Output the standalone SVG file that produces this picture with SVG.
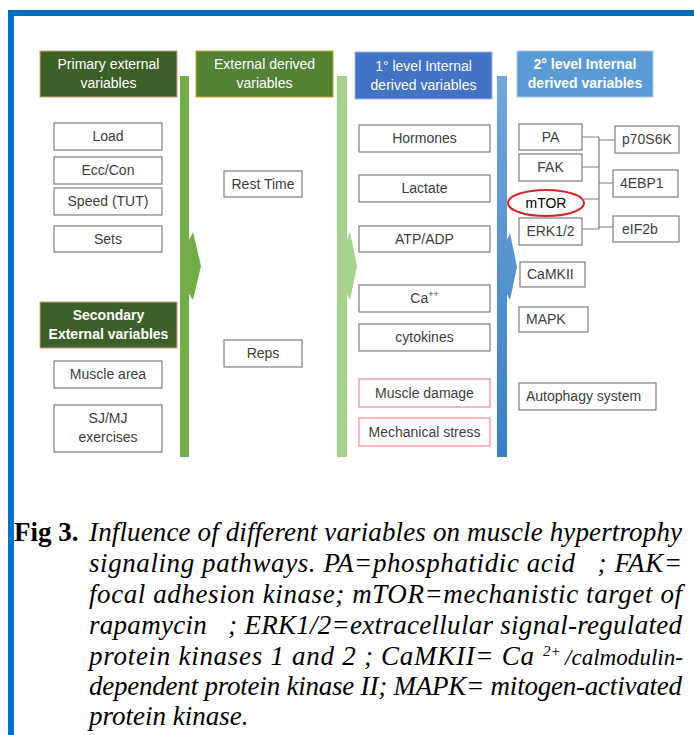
<svg xmlns="http://www.w3.org/2000/svg" width="694" height="735" viewBox="0 0 694 735">
<style>
.bx{fill:#fff;stroke:#7f7f7f;stroke-width:1.2}
.rbx{fill:#fff;stroke:#f28b8b;stroke-width:1.2}
.t{font-family:"Liberation Sans",Arial,sans-serif;font-size:14px;fill:#404040}
.c{text-anchor:middle}
.h{font-family:"Liberation Sans",Arial,sans-serif;font-size:14px;fill:#fff;text-anchor:middle}
.b{font-weight:bold}
.cap{font-family:"Liberation Serif","Times New Roman",serif;font-size:27px;font-style:italic;fill:#000;white-space:pre}
.fig{font-style:normal;font-weight:bold}
.sup{font-size:15px}
.cal{font-size:24px}
.ln{stroke:#7f7f7f;stroke-width:1.2;fill:none}
</style>
<defs>
<linearGradient id="bg" x1="0" y1="0" x2="0" y2="1">
<stop offset="0" stop-color="#72a6dd"/>
<stop offset="1" stop-color="#3b7fc3"/>
</linearGradient>
</defs>
<rect x="0" y="0" width="694" height="735" fill="#fff"/>
<!-- frame -->
<rect x="8" y="10" width="686" height="6" fill="#0070c0"/>
<rect x="8" y="10" width="6" height="725" fill="#0070c0"/>

<!-- big arrows -->
<g id="arrows">
<polygon points="180,76 189,76 189,240 193,232 201,266 193,300 189,294 189,457 180,457" fill="#70ad47"/>
<polygon points="337,76 347,76 347,240 350,232 357,266 350,300 347,294 347,457 337,457" fill="#a9d18e"/>
<polygon points="497,76 507,76 507,240 510,233 517,267 510,300 507,294 507,457 497,457" fill="url(#bg)"/>
</g>

<!-- headers -->
<g id="h1"><rect x="40" y="51" width="137" height="46" fill="#3d5f28" stroke="#d7a27a" stroke-width="1"/>
<text class="h" x="108.5" y="69">Primary external</text><text class="h" x="108.5" y="88">variables</text></g>
<g id="h2"><rect x="196" y="51" width="137" height="46" fill="#548235" stroke="#c9a227" stroke-width="1"/>
<text class="h" x="264.5" y="69">External derived</text><text class="h" x="264.5" y="88">variables</text></g>
<g id="h3"><rect x="355" y="52" width="137" height="47" fill="#4472c4" stroke="#9fb7e0" stroke-width="1"/>
<text class="h" x="423.5" y="71">1° level Internal</text><text class="h" x="423.5" y="90">derived variables</text></g>
<g id="h4"><rect x="517" y="51" width="136" height="46" fill="#5b9bd5" stroke="#a9c8ea" stroke-width="1"/>
<text class="h b" x="585" y="69">2° level Internal</text><text class="h b" x="585" y="88">derived variables</text></g>
<g id="h5"><rect x="40" y="302" width="137" height="46" fill="#3d5f28" stroke="#d7a27a" stroke-width="1"/>
<text class="h b" x="108.5" y="320">Secondary</text><text class="h b" x="108.5" y="339">External variables</text></g>

<!-- left column -->
<g id="load"><rect class="bx" x="54" y="123" width="108" height="27"/><text class="t c" x="108" y="141">Load</text></g>
<g id="ecc"><rect class="bx" x="54" y="157" width="108" height="27"/><text class="t c" x="108" y="175">Ecc/Con</text></g>
<g id="speed"><rect class="bx" x="54" y="188" width="108" height="27"/><text class="t c" x="108" y="206">Speed (TUT)</text></g>
<g id="sets"><rect class="bx" x="54" y="226" width="108" height="26"/><text class="t c" x="108" y="244">Sets</text></g>
<g id="marea"><rect class="bx" x="54" y="361" width="108" height="27"/><text class="t c" x="108" y="379">Muscle area</text></g>
<g id="sjmj"><rect class="bx" x="54" y="405" width="108" height="47"/><text class="t c" x="108" y="423">SJ/MJ</text><text class="t c" x="108" y="442">exercises</text></g>

<g id="rest"><rect class="bx" x="224" y="171" width="78" height="26"/><text class="t c" x="263" y="189">Rest Time</text></g>
<g id="reps"><rect class="bx" x="224" y="340" width="78" height="27"/><text class="t c" x="263" y="358">Reps</text></g>

<!-- middle column -->
<g id="horm"><rect class="bx" x="359" y="125" width="131" height="27"/><text class="t c" x="424.5" y="143">Hormones</text></g>
<g id="lact"><rect class="bx" x="359" y="175" width="131" height="27"/><text class="t c" x="424.5" y="193">Lactate</text></g>
<g id="atp"><rect class="bx" x="359" y="226" width="131" height="26"/><text class="t c" x="424.5" y="244">ATP/ADP</text></g>
<g id="ca"><rect class="bx" x="359" y="285" width="131" height="27"/><text class="t c" x="424.5" y="303">Ca<tspan style="font-size:9px" dy="-6">++</tspan></text></g>
<g id="cyto"><rect class="bx" x="359" y="324" width="131" height="27"/><text class="t c" x="424.5" y="342">cytokines</text></g>
<g id="mdam"><rect class="rbx" x="359" y="379" width="131" height="28"/><text class="t c" x="424.5" y="398">Muscle damage</text></g>
<g id="mstr"><rect class="rbx" x="359" y="418" width="131" height="28"/><text class="t c" x="424.5" y="437">Mechanical stress</text></g>

<!-- right column -->
<g id="pa"><rect class="bx" x="519" y="124" width="63" height="26"/><text class="t c" x="550.5" y="142">PA</text></g>
<g id="fak"><rect class="bx" x="519" y="154" width="63" height="27"/><text class="t c" x="550.5" y="172">FAK</text></g>
<g id="mtor"><ellipse cx="546" cy="203" rx="38" ry="13" fill="#fff" stroke="#e02020" stroke-width="2"/><text class="t c" x="546" y="208" style="fill:#000">mTOR</text></g>
<g id="erk"><rect class="bx" x="519" y="218" width="63" height="27"/><text class="t c" x="550.5" y="236">ERK1/2</text></g>
<g id="camk"><rect class="bx" x="520" y="262" width="65" height="25"/><text class="t" x="527" y="279">CaMKII</text></g>
<g id="mapk"><rect class="bx" x="519" y="307" width="69" height="25"/><text class="t" x="526" y="324">MAPK</text></g>
<g id="auto"><rect class="bx" x="519" y="383" width="137" height="27"/><text class="t" x="526" y="401">Autophagy system</text></g>
<g id="p70"><rect class="bx" x="615" y="126" width="64" height="27"/><text class="t" x="622" y="144">p70S6K</text></g>
<g id="ebp"><rect class="bx" x="613" y="170" width="65" height="27"/><text class="t" x="620" y="188">4EBP1</text></g>
<g id="eif"><rect class="bx" x="613" y="216" width="66" height="26"/><text class="t" x="622" y="234">eIF2b</text></g>

<g id="connectors">
<path class="ln" d="M582 137H599M582 167H599M584 199H599M582 229H599M599 137V229M599 140H615M599 183H613M599 227H613"/>
</g>

<!-- caption -->
<g id="caption">
<text class="cap fig" x="14" y="541">Fig 3.</text>
<text class="cap" x="89" y="541" textLength="593" lengthAdjust="spacing">Influence of different variables on muscle hypertrophy</text>
<text class="cap" x="89" y="572" textLength="593" lengthAdjust="spacing">signaling pathways. PA=phosphatidic acid   ; FAK=</text>
<text class="cap" x="89" y="603" textLength="593" lengthAdjust="spacing">focal adhesion kinase; mTOR=mechanistic target of</text>
<text class="cap" x="89" y="634" textLength="593" lengthAdjust="spacing">rapamycin   ; ERK1/2=extracellular signal-regulated</text>
<text class="cap" x="89" y="665" textLength="445" lengthAdjust="spacing">protein kinases 1 and 2 ; CaMKII= Ca</text>
<text class="cap sup" x="543" y="656">2+</text>
<text class="cap cal" x="565" y="665" textLength="118" lengthAdjust="spacingAndGlyphs">/calmodulin-</text>
<text class="cap" x="89" y="695" textLength="593" lengthAdjust="spacing">dependent protein kinase II; MAPK= mitogen-activated</text>
<text class="cap" x="89" y="725">protein kinase.</text>
</g>
</svg>
